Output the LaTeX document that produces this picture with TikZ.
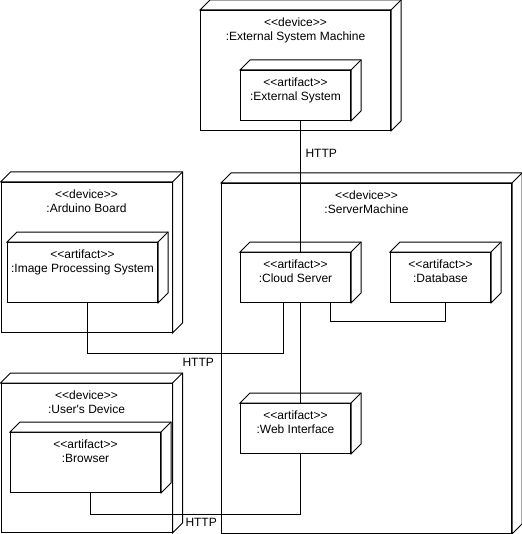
\documentclass[tikz,border=0pt]{standalone}
\usepackage{fontspec}
\setmainfont{Liberation Sans}[Ligatures=TeXOff]
\usetikzlibrary{calc}
\newcommand\pxfont{\fontsize{12}{13.5}\selectfont}
\newcommand\backfaces[1]{%
  \draw[fill=white] (#1.north west) -- ++(10,-10) -- ($(#1.north east)+(10,-10)$)
     -- ($(#1.south east)+(10,-10)$) -- (#1.south east) -- (#1.north east) -- cycle;
  \draw (#1.north east) -- ++(10,-10);}
\begin{document}
\begin{tikzpicture}[x=1pt,y=-1pt,line width=1pt,
  box/.style={draw,fill=white,rectangle,inner sep=0pt,anchor=north west},
  ttl/.style={anchor=north,inner sep=0pt,align=center,font=\pxfont},
  conn/.style={draw,line width=1pt},
  lbl/.style={anchor=west,inner sep=0pt,font=\pxfont}]
\useasboundingbox (0,0) rectangle (521,534);

% devices
\node[box,minimum width=190pt,minimum height=120pt] (extm) at (200,10) {};
\backfaces{extm}
\node[box,minimum width=171pt,minimum height=150pt] (ard) at (0.5,182) {};
\backfaces{ard}
\node[box,minimum width=290pt,minimum height=350pt] (srv) at (221,183) {};
\backfaces{srv}
\node[box,minimum width=171pt,minimum height=149pt] (usr) at (0.5,383) {};
\backfaces{usr}

% artifacts
\node[box,minimum width=110pt,minimum height=50pt] (ext) at (240,70) {};
\backfaces{ext}
\node[box,minimum width=150pt,minimum height=60pt] (ips) at (7,242) {};
\backfaces{ips}
\node[box,minimum width=110pt,minimum height=50pt] (cloud) at (240,252) {};
\backfaces{cloud}
\node[box,minimum width=100pt,minimum height=50pt] (db) at (390,252) {};
\backfaces{db}
\node[box,minimum width=110pt,minimum height=50pt] (web) at (240,403) {};
\backfaces{web}
\node[box,minimum width=150pt,minimum height=60pt] (brw) at (10,432) {};
\backfaces{brw}

% titles
\node[ttl] (extmT) at ([yshift=-7.4pt]extm.north) {<\kern0pt<device>\kern0pt>\\:External System Machine};
\node[ttl] (ardT) at ([yshift=-7.4pt]ard.north) {<\kern0pt<device>\kern0pt>\\:Arduino Board};
\node[ttl] (srvT) at ([yshift=-7.4pt]srv.north) {<\kern0pt<device>\kern0pt>\\:ServerMachine};
\node[ttl] (usrT) at ([yshift=-7.4pt]usr.north) {<\kern0pt<device>\kern0pt>\\:User's Device};
\node[ttl] (extT) at ([yshift=-7.4pt]ext.north) {<\kern0pt<artifact>\kern0pt>\\:External System};
\node[ttl] (ipsT) at ([yshift=-7.4pt]ips.north) {<\kern0pt<artifact>\kern0pt>\\:Image Processing System};
\node[ttl] (cloudT) at ([yshift=-7.4pt]cloud.north) {<\kern0pt<artifact>\kern0pt>\\:Cloud Server};
\node[ttl] (dbT) at ([yshift=-7.4pt]db.north) {<\kern0pt<artifact>\kern0pt>\\:Database};
\node[ttl] (webT) at ([yshift=-7.4pt]web.north) {<\kern0pt<artifact>\kern0pt>\\:Web Interface};
\node[ttl] (brwT) at ([yshift=-7.4pt]brw.north) {<\kern0pt<artifact>\kern0pt>\\:Browser};

% connectors
\draw[conn] ([xshift=5pt]ext.south) -- ([xshift=5pt]cloud.north);
\draw[conn] ([xshift=5pt]ips.south) |- ([xshift=-12pt,yshift=-50pt]cloud.south) -- ([xshift=-12pt]cloud.south);
\draw[conn] ([xshift=35pt]cloud.south) |- ([xshift=5pt,yshift=-18pt]db.south) -- ([xshift=5pt]db.south);
\draw[conn] ([xshift=5pt]cloud.south) -- ([xshift=5pt]web.north);
\draw[conn] ([xshift=5pt]brw.south) |- ([xshift=5pt,yshift=-60pt]web.south) -- ([xshift=5pt]web.south);

% labels
\node[lbl] (h1) at (305,153) {HTTP};
\node[lbl] (h2) at (182,362) {HTTP};
\node[lbl] (h3) at (185,522) {HTTP};
\end{tikzpicture}
\end{document}
